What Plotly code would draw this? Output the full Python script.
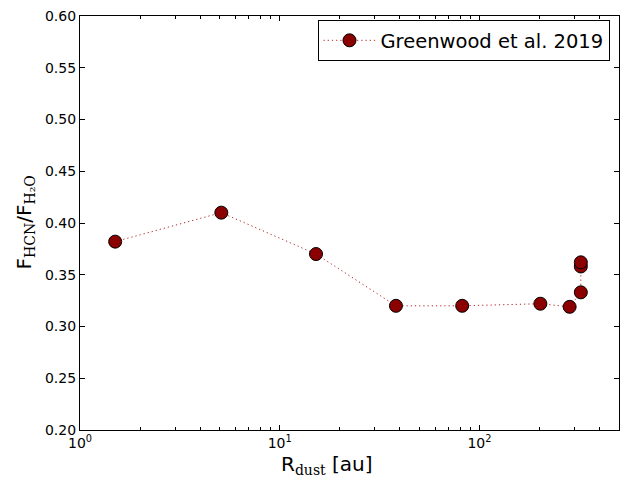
import plotly.graph_objects as go

# Dust radius (au) and HCN/H2O flux ratio
r_dust = [1.5, 5.1, 15.2, 38.2, 82.0, 202.0, 283.0, 322.0, 322.0, 322.0]
flux_ratio = [0.382, 0.410, 0.370, 0.320, 0.320, 0.322, 0.319, 0.333, 0.358, 0.362]

x_major = [1, 10, 100]
x_major_text = ["10<sup>0</sup>", "10<sup>1</sup>", "10<sup>2</sup>"]
x_minor = [m * d for d in (1, 10, 100) for m in range(2, 10) if m * d <= 500]
y_ticks = [0.20, 0.25, 0.30, 0.35, 0.40, 0.45, 0.50, 0.55, 0.60]

FONT = "DejaVu Sans"
SERIF = "DejaVu Serif"

fig = go.Figure()
fig.add_trace(go.Scatter(
    x=r_dust, y=flux_ratio,
    mode="lines+markers",
    name="Greenwood et al. 2019",
    line=dict(color="#b22222", width=1, dash="1.2px,3px"),
    marker=dict(color="#8b0000", size=13, line=dict(color="black", width=1)),
))

axis_common = dict(
    showline=True, linecolor="black", linewidth=1.2, mirror="allticks",
    ticks="inside", tickcolor="black", ticklen=5, tickwidth=1,
    showgrid=False, zeroline=False,
    tickfont=dict(family=FONT, size=14, color="black"),
)

fig.update_xaxes(
    type="log", range=[0, 2.69897],
    tickmode="array", tickvals=x_major, ticktext=x_major_text,
    minor=dict(tickmode="array", tickvals=x_minor, ticks="inside",
               ticklen=3, tickcolor="black", showgrid=False),
    **axis_common,
)
fig.update_yaxes(
    range=[0.2, 0.6], tickmode="array", tickvals=y_ticks, tickformat=".2f",
    **axis_common,
)

fig.add_annotation(
    text=f"R<sub><span style=\"font-family:{SERIF}\">dust</span></sub> [au]",
    xref="paper", yref="paper", x=(327 - 80.5) / 539, y=(430 - 465) / 417,
    xanchor="center", yanchor="middle", showarrow=False,
    font=dict(family=FONT, size=20, color="black"),
)
fig.add_annotation(
    text=(f"F<sub><span style=\"font-family:{SERIF}\">HCN</span></sub>/"
          f"F<sub><span style=\"font-family:{SERIF}\">H₂O</span></sub>"),
    xref="paper", yref="paper", x=(25 - 80.5) / 539, y=0.5,
    xanchor="center", yanchor="middle", textangle=-90, showarrow=False,
    font=dict(family=FONT, size=20, color="black"),
)

fig.update_layout(
    width=628, height=479,
    margin=dict(l=80, r=8, t=13, b=49),
    paper_bgcolor="white", plot_bgcolor="white",
    showlegend=True,
    legend=dict(
        x=(610 - 80.5) / 539, y=0.99,
        xanchor="right", yanchor="top",
        bgcolor="white", bordercolor="black", borderwidth=1,
        font=dict(family=FONT, size=19.5, color="black"),
        itemwidth=52,
    ),
)

fig.write_html("out.html")
